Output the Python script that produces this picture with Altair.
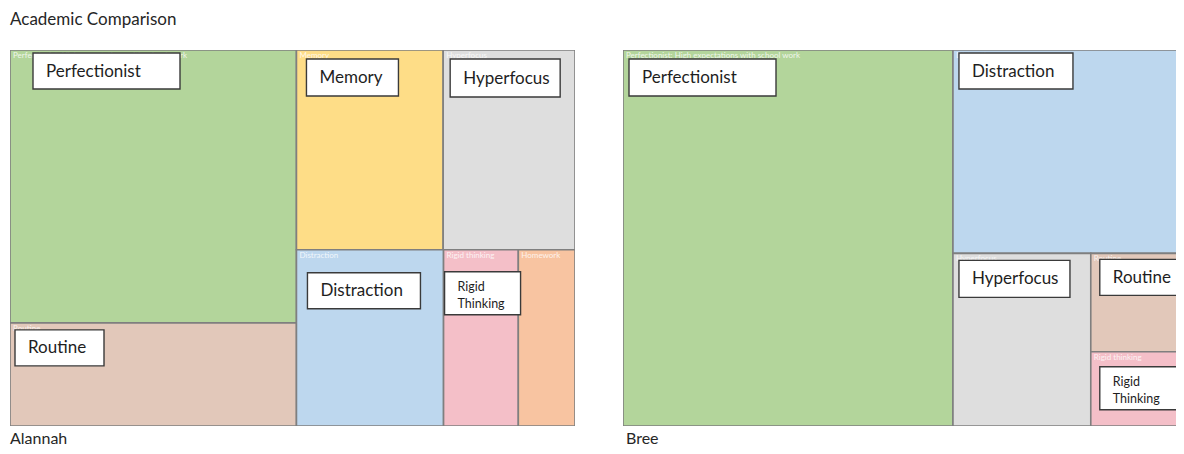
import altair as alt
import pandas as pd

# ---------------- data ----------------
chart_title = "Academic Comparison"
people = ["Alannah", "Bree"]

alannah_categories = ["Perfectionist", "Routine", "Memory", "Hyperfocus",
                      "Distraction", "Rigid thinking", "Homework"]
alannah_values = [36.8, 13.9, 13.8, 12.4, 12.2, 6.2, 4.7]

bree_categories = ["Perfectionist", "Distraction", "Hyperfocus", "Routine",
                   "Rigid thinking"]
bree_values = [58.4, 22.5, 11.2, 4.5, 3.4]

cell_labels = {
    "Perfectionist": "Perfectionist: High expectations with school work",
    "Routine": "Routine",
    "Memory": "Memory",
    "Hyperfocus": "Hyperfocus",
    "Distraction": "Distraction",
    "Rigid thinking": "Rigid thinking",
    "Homework": "Homework",
}

# callout text shown in the white boxes
callout_text = {
    "Perfectionist": ["Perfectionist"],
    "Routine": ["Routine"],
    "Memory": ["Memory"],
    "Hyperfocus": ["Hyperfocus"],
    "Distraction": ["Distraction"],
    "Rigid thinking": ["Rigid", "Thinking"],
}

# treemap grouping (slice direction, children)
alannah_tree = ("h", [("v", ["Perfectionist", "Routine"]),
                      ("v", [("h", ["Memory", "Hyperfocus"]),
                             ("h", ["Distraction", "Rigid thinking", "Homework"])])])
bree_tree = ("h", ["Perfectionist",
                   ("v", ["Distraction",
                          ("h", ["Hyperfocus", ("v", ["Routine", "Rigid thinking"])])])])

# ---------------- style ----------------
palette_domain = ["Perfectionist", "Routine", "Memory", "Hyperfocus",
                  "Distraction", "Rigid thinking", "Homework"]
palette_range = ["#B3D59B", "#E2C8BA", "#FEDD87", "#DEDEDE",
                 "#BDD7EE", "#F4BFC8", "#F8C4A1"]

PANEL_W, PANEL_H = 565, 376
FONT = "Lato"

# callout box placement relative to its cell's top-left: dx, dy, w, h
alannah_callouts = {
    "Perfectionist": (23, 3, 147, 36),
    "Memory": (10, 9, 92, 37),
    "Hyperfocus": (7, 9, 110, 38),
    "Distraction": (11, 23, 113, 36),
    "Rigid thinking": (1, 22, 76, 43),
    "Routine": (5, 7, 89, 36),
}
bree_callouts = {
    "Perfectionist": (6, 9, 147, 37),
    "Distraction": (6, 3, 114, 36),
    "Hyperfocus": (6, 7, 111, 37),
    "Routine": (9, 6, 100, 36),
    "Rigid thinking": (9, 15, 77, 43),
}


def node_value(node, vals):
    if isinstance(node, str):
        return vals[node]
    return sum(node_value(k, vals) for k in node[1])


def layout(node, vals, x0, y0, x1, y1, out):
    if isinstance(node, str):
        out.append(dict(cat=node, x0=x0, y0=y0, x1=x1, y1=y1))
        return
    d, kids = node
    total = node_value(node, vals)
    pos = x0 if d == "h" else y0
    for k in kids:
        frac = node_value(k, vals) / total
        if d == "h":
            nxt = pos + frac * (x1 - x0)
            layout(k, vals, pos, y0, nxt, y1, out)
        else:
            nxt = pos + frac * (y1 - y0)
            layout(k, vals, x0, pos, x1, nxt, out)
        pos = nxt


def panel(name, cats, vals, tree, callouts, visible_w, title_dx):
    vdict = dict(zip(cats, vals))
    cells = []
    layout(tree, vdict, 0, 0, PANEL_W, PANEL_H, cells)
    cdf = pd.DataFrame(cells)
    cdf["label"] = cdf["cat"].map(cell_labels)
    cdf["lx"] = cdf["x0"] + 3
    cdf["ly"] = cdf["y0"] + 2

    boxes, texts = [], []
    for c in cells:
        if c["cat"] not in callouts:
            continue
        dx, dy, w, h = callouts[c["cat"]]
        bx, by = c["x0"] + dx, c["y0"] + dy
        boxes.append(dict(bx0=bx, by0=by, bx1=bx + w, by1=by + h))
        lines = callout_text[c["cat"]]
        if len(lines) == 1:
            texts.append(dict(tx=bx + 13, ty=by + h / 2 + 0.5, t=lines[0], fs=17))
        else:
            texts.append(dict(tx=bx + 13, ty=by + 15, t=lines[0], fs=12.5))
            texts.append(dict(tx=bx + 13, ty=by + 32, t=lines[1], fs=12.5))
    bdf = pd.DataFrame(boxes)
    tdf = pd.DataFrame(texts)

    xs = alt.Scale(domain=[0, visible_w], nice=False, zero=False)
    ys = alt.Scale(domain=[0, PANEL_H], nice=False, zero=False, reverse=True)

    rects = alt.Chart(cdf).mark_rect(stroke="#7F7F7F", strokeWidth=1.6, clip=True).encode(
        x=alt.X("x0:Q", scale=xs, axis=None),
        x2="x1:Q",
        y=alt.Y("y0:Q", scale=ys, axis=None),
        y2="y1:Q",
        color=alt.Color("cat:N", scale=alt.Scale(domain=palette_domain, range=palette_range),
                        legend=None),
    )
    labels = alt.Chart(cdf).mark_text(align="left", baseline="top", fontSize=8,
                                      font=FONT, color="#FFFFFF", opacity=0.8,
                                      clip=True).encode(
        x=alt.X("lx:Q", scale=xs, axis=None),
        y=alt.Y("ly:Q", scale=ys, axis=None),
        text="label:N",
    )
    box = alt.Chart(bdf).mark_rect(fill="white", stroke="#3A3A3A", strokeWidth=1.4,
                                   clip=True).encode(
        x=alt.X("bx0:Q", scale=xs, axis=None),
        x2="bx1:Q",
        y=alt.Y("by0:Q", scale=ys, axis=None),
        y2="by1:Q",
    )
    btxt = alt.Chart(tdf).mark_text(align="left", baseline="middle", font=FONT,
                                    color="#1E1E1E", clip=True).encode(
        x=alt.X("tx:Q", scale=xs, axis=None),
        y=alt.Y("ty:Q", scale=ys, axis=None),
        text="t:N",
        size=alt.Size("fs:Q", scale=None, legend=None),
    )
    return alt.layer(rects, labels, box, btxt).properties(
        width=visible_w, height=PANEL_H,
        title=alt.TitleParams(name, orient="bottom", anchor="start", fontSize=16,
                              font=FONT, fontWeight="normal", color="#262626",
                              offset=5, dx=title_dx),
    )


left = panel(people[0], alannah_categories, alannah_values, alannah_tree,
             alannah_callouts, PANEL_W, 0)
right = panel(people[1], bree_categories, bree_values, bree_tree,
              bree_callouts, 553, 3)

chart = alt.hconcat(left, right, spacing=48).properties(
    title=alt.TitleParams(chart_title, anchor="start", fontSize=17, font=FONT,
                          fontWeight="normal", color="#262626", offset=21.5),
    padding={"left": 2, "top": 2, "right": 0, "bottom": 0},
).configure_view(stroke=None).configure_concat(spacing=48)

chart.save("out.html", embed_options={"renderer": "svg", "actions": False})
